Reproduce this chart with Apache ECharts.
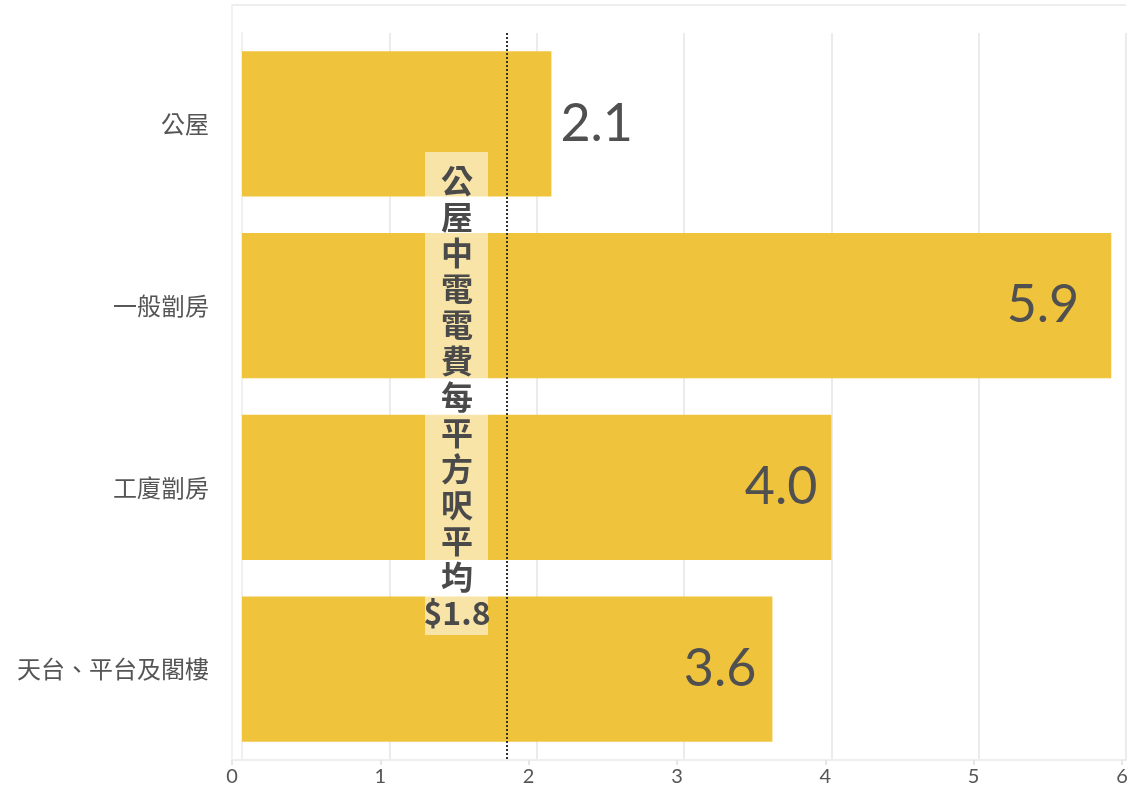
<!DOCTYPE html>
<html>
<head>
<meta charset="utf-8">
<script src="https://cdn.jsdelivr.net/npm/echarts@6/dist/echarts.min.js"></script>
<style>
  html, body { margin: 0; padding: 0; background: #fff; }
  #chart { width: 1133px; height: 794px; }
</style>
</head>
<body>
<div id="chart"></div>
<script>
// Housing types and their electricity cost per square foot
const categories = ['公屋', '一般劏房', '工廈劏房', '天台、平台及閣樓'];
const costPerSqft = [2.1, 5.9, 4.0, 3.6];
const publicHousingAvg = 1.8;
const xTicks = [0, 1, 2, 3, 4, 5, 6];
const noteText = '公屋中電電費每平方呎平均';

// label inset from bar end (px) for labels drawn inside the bar
const insideInset = { '一般劏房': 32, '工廈劏房': 14, '天台、平台及閣樓': 16 };

const BAR = '#F0C33C';
const TEXT = '#555555';
const GRID_LINE = '#ebebeb';

const chart = echarts.init(document.getElementById('chart'), null, { renderer: 'canvas' });

const barData = costPerSqft.map((v, i) => {
  const inside = v >= 3;
  return {
    value: v,
    label: inside
      ? { position: 'insideRight', distance: insideInset[categories[i]] || 16 }
      : { position: 'right', distance: 9 }
  };
});

const note = noteText.split('').join('\n') + '\n$' + publicHousingAvg.toFixed(1);

chart.setOption({
  animation: false,
  backgroundColor: '#ffffff',
  grid: [
    { left: 242, right: 7, top: 33, bottom: 34 },
    { left: 232, right: 11, top: 5, bottom: 34 }
  ],
  xAxis: [
    {
      gridIndex: 0, type: 'value', min: 0, max: 6, interval: 1,
      axisLabel: { show: false },
      axisTick: { show: false },
      axisLine: { show: true, lineStyle: { color: GRID_LINE, width: 2 } },
      splitLine: { show: true, lineStyle: { color: GRID_LINE, width: 2 } }
    },
    {
      gridIndex: 1, type: 'value', min: 0, max: 6, interval: 1,
      axisLabel: {
        show: true, color: TEXT, fontSize: 20, margin: 7,
        fontFamily: 'Lato, "Noto Sans", sans-serif',
        formatter: v => xTicks.includes(v) ? String(v) : ''
      },
      axisTick: { show: true, length: 5, lineStyle: { color: '#e6e6e6', width: 2 } },
      axisLine: { show: true, lineStyle: { color: '#eeeeee', width: 2 } },
      splitLine: { show: false }
    }
  ],
  yAxis: [
    {
      gridIndex: 0, type: 'category', data: categories, inverse: true,
      axisLine: { show: true, lineStyle: { color: '#f0f0f0', width: 2 } },
      axisTick: { show: false },
      axisLabel: {
        color: TEXT, fontSize: 24, margin: 33,
        fontFamily: '"Noto Sans CJK TC", "Noto Sans", sans-serif'
      },
      splitLine: { show: false }
    },
    {
      gridIndex: 1, type: 'value', min: 0, max: 1,
      axisLine: { show: true, lineStyle: { color: '#f2f2f2', width: 2 } },
      axisTick: { show: false },
      axisLabel: { show: false },
      splitLine: { show: false }
    }
  ],
  series: [
    {
      type: 'bar',
      xAxisIndex: 0, yAxisIndex: 0,
      data: barData,
      barCategoryGap: '20%',
      itemStyle: { color: BAR },
      label: {
        show: true,
        color: '#505050',
        fontSize: 52,
        fontFamily: 'Lato, "Noto Sans", sans-serif',
        formatter: p => p.value.toFixed(1)
      },
      markLine: {
        silent: true,
        symbol: 'none',
        label: { show: false },
        lineStyle: { type: 'dotted', color: '#333333', width: 2 },
        data: [{ xAxis: publicHousingAvg }]
      },
      z: 2
    }
  ],
  graphic: [
    {
      type: 'line', z: 1,
      shape: { x1: 232, y1: 5, x2: 1126, y2: 5 },
      style: { stroke: '#eeeeee', lineWidth: 2 }
    },
    {
      type: 'rect', z: 100,
      shape: { x: 425, y: 152, width: 63, height: 483 },
      style: { fill: 'rgba(255,255,255,0.55)' }
    },
    {
      type: 'text', z: 101,
      x: 457, y: 397,
      style: {
        text: note,
        fill: '#4a4a4a',
        font: 'bold 32px "Noto Sans CJK TC", sans-serif',
        lineHeight: 36,
        align: 'center',
        verticalAlign: 'middle'
      }
    }
  ]
});
</script>
</body>
</html>
